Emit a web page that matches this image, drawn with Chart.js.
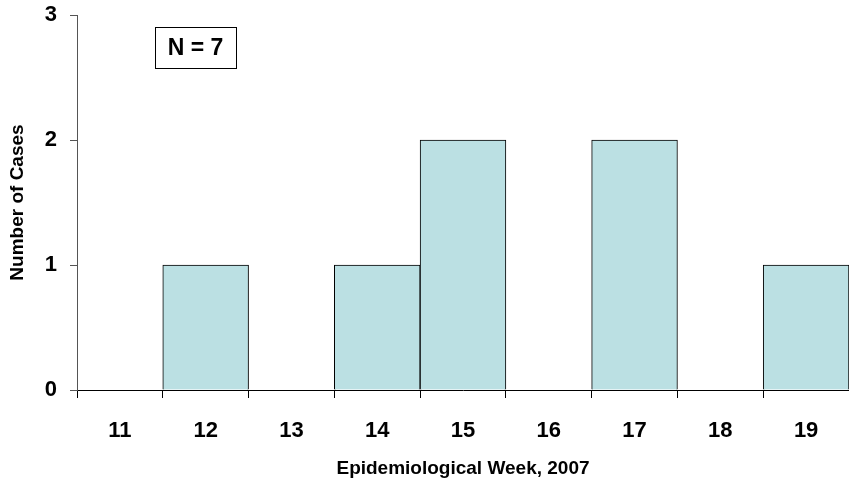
<!DOCTYPE html>
<html>
<head>
<meta charset="utf-8">
<script src="https://cdn.jsdelivr.net/npm/chart.js@4.4.0/dist/chart.umd.min.js"></script>
<style>
  html, body { margin: 0; padding: 0; background: #fff; }
  #wrap { width: 849px; height: 482px; }
</style>
</head>
<body>
<div id="wrap"><canvas id="epiChart"></canvas></div>
<script>
const WEEKS = ['11', '12', '13', '14', '15', '16', '17', '18', '19'];
const CASES = [0, 1, 0, 1, 2, 0, 2, 0, 1];
const Y_TICKS = [0, 1, 2, 3];
const TOTAL_LABEL = 'N = 7';

const FONT = "'Liberation Sans', Arial, sans-serif";

// box with the total number of cases, top left of the plot
const totalBox = {
    id: 'totalBox',
    afterDatasetsDraw(chart) {
        const ctx = chart.ctx;
        const area = chart.chartArea;
        const x = area.left + 78, y = area.top + 12, w = 81, h = 41;
        ctx.save();
        ctx.fillStyle = '#fff';
        ctx.fillRect(x, y, w, h);
        ctx.strokeStyle = '#000';
        ctx.lineWidth = 1;
        ctx.strokeRect(x + 0.5, y + 0.5, w, h);
        ctx.fillStyle = '#000';
        ctx.font = 'bold 23px ' + FONT;
        ctx.textAlign = 'center';
        ctx.textBaseline = 'middle';
        ctx.fillText(TOTAL_LABEL, x + w / 2, y + h / 2 + 1);
        ctx.restore();
    }
};

const dataEpi = {
    labels: WEEKS,
    datasets: [
        {
            label: 'Cases',
            data: CASES,
            backgroundColor: '#BBE0E3',
            borderColor: '#000',
            borderWidth: 1,
            barPercentage: 1.0,
            categoryPercentage: 1.0,
        }
    ]
};

const configEpi = {
    type: 'bar',
    data: dataEpi,
    options: {
        responsive: true,
        maintainAspectRatio: false,
        animation: false,
        layout: { padding: { top: 15, right: 0, left: 0, bottom: 0 } },
        plugins: {
            legend: { display: false },
            tooltip: { enabled: false }
        },
        scales: {
            x: {
                offset: true,
                grid: {
                    offset: true,
                    drawOnChartArea: false,
                    drawTicks: true,
                    tickLength: 8,
                    color: '#000'
                },
                border: { color: '#000', width: 1 },
                ticks: {
                    color: '#000',
                    font: { family: FONT, size: 22, weight: 'bold' },
                    padding: 20,
                    maxRotation: 0
                },
                title: {
                    display: true,
                    text: 'Epidemiological Week, 2007',
                    color: '#000',
                    font: { family: FONT, size: 19, weight: 'bold' },
                    padding: { top: 0, bottom: 2 }
                },
                afterFit(scale) {
                    scale.height = 92;
                    scale.paddingLeft = 0;
                    scale.paddingRight = 0;
                }
            },
            y: {
                min: 0,
                max: 3,
                afterBuildTicks(scale) {
                    scale.ticks = Y_TICKS.map(v => ({ value: v }));
                },
                grid: {
                    drawOnChartArea: false,
                    drawTicks: true,
                    tickLength: 7,
                    color: '#555'
                },
                border: { color: '#555', width: 1 },
                ticks: {
                    color: '#000',
                    font: { family: FONT, size: 22, weight: 'bold' },
                    padding: 13
                },
                title: {
                    display: true,
                    text: 'Number of Cases',
                    color: '#000',
                    font: { family: FONT, size: 19, weight: 'bold' },
                    padding: { top: 6, bottom: 0 }
                },
                afterFit(scale) {
                    scale.width = 77;
                    scale.paddingTop = 0;
                    scale.paddingBottom = 0;
                }
            }
        }
    },
    plugins: [totalBox]
};

var epiChart = new Chart(
    document.getElementById('epiChart'),
    configEpi
);
</script>
</body>
</html>
